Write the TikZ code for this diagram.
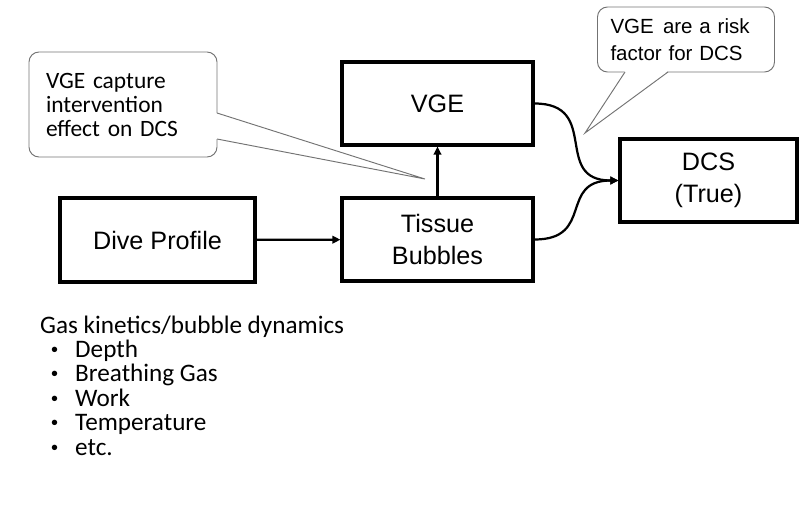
\documentclass[tikz,border=0pt]{standalone}
\usepackage{fontspec}
\setmainfont{Carlito}
\newfontfamily\arialfont{Liberation Sans}
\usetikzlibrary{arrows.meta}

\begin{document}
\begin{tikzpicture}
[
	x=0.3mm, y=-0.3mm,
	block/.style={draw,line width=2.6pt,minimum width=57.3mm,minimum height=24.9mm,align=center,font=\arialfont\fontsize{21.5}{27.5}\selectfont},
	note/.style={draw=black!55,line width=0.8pt,rounded corners=3mm,align=left},
	pointer/.style={draw=black!55,line width=0.8pt},
	flow/.style={line width=1.9pt,-{Triangle[length=7pt,width=6.5pt]}},
	listtext/.style={anchor=base west,inner sep=0pt,font=\fontsize{21.5}{24}\selectfont},
	dot/.style={anchor=base west,inner sep=0pt,font=\arialfont\fontsize{17}{20}\selectfont}
]

	\useasboundingbox (0,0) rectangle (799,510);

	% boxes
	\node[block,minimum width=58.5mm,minimum height=25.2mm] (dive) at (157.5,240) {Dive Profile};
	\node[block] (tissue) at (437.5,239.5) {Tissue\\Bubbles};
	\node[block] (vge) at (437.5,103.5) {VGE};
	\node[block,minimum width=53.1mm] (dcs) at (708.5,180.5) {DCS\\(True)};

	% callouts
	\node[note,minimum width=56.4mm,minimum height=31.5mm,text width=46.2mm,inner xsep=5.1mm,
	  font=\fontsize{20}{20.5}\selectfont] (capture) at (123,104.5)
	  {VGE capture\\intervention\\effect on DCS};
	\coordinate (capture a) at (217,113);
	\coordinate (capture b) at (217,139);
	\coordinate (capture tip) at (425,179);
	\fill[white] ([xshift=-1pt]capture a) -- (capture tip) -- ([xshift=-1pt]capture b) -- cycle;
	\draw[pointer] (capture a) -- (capture tip) -- (capture b);

	\node[note,minimum width=53.1mm,minimum height=19.5mm,text width=45.3mm,inner xsep=3.9mm,
	  font=\arialfont\fontsize{17.5}{23}\selectfont] (risk) at (686,39.5)
	  {VGE\hspace{0.45em}are a risk\\factor for DCS};
	\coordinate (risk a) at (625,72);
	\coordinate (risk b) at (668,72);
	\coordinate (risk tip) at (585,133);
	\fill[white] ([yshift=1pt]risk a) -- (risk tip) -- ([yshift=1pt]risk b) -- cycle;
	\draw[pointer] (risk a) -- (risk tip) -- (risk b);

	% arrows
	\draw[flow] (dive) -- (tissue);
	\draw[flow] (tissue) -- (vge);
	\draw[flow] (vge.east) to[out=0,in=180,looseness=1.5] (dcs.west);
	\draw[flow] (tissue.east) to[out=0,in=180,looseness=1.5] (dcs.west);

	% list
	\node[listtext] (head) at (40,333) {Gas kinetics/bubble dynamics};
	\foreach \txt [count=\k] in {Depth,Breathing Gas,Work,Temperature,etc.} {
		\node[dot] (dot\k) at (51,{332+24.4*\k}) {•};
		\node[listtext] (item\k) at (75,{333+24.4*\k}) {\txt};
	}

\end{tikzpicture}
\end{document}
